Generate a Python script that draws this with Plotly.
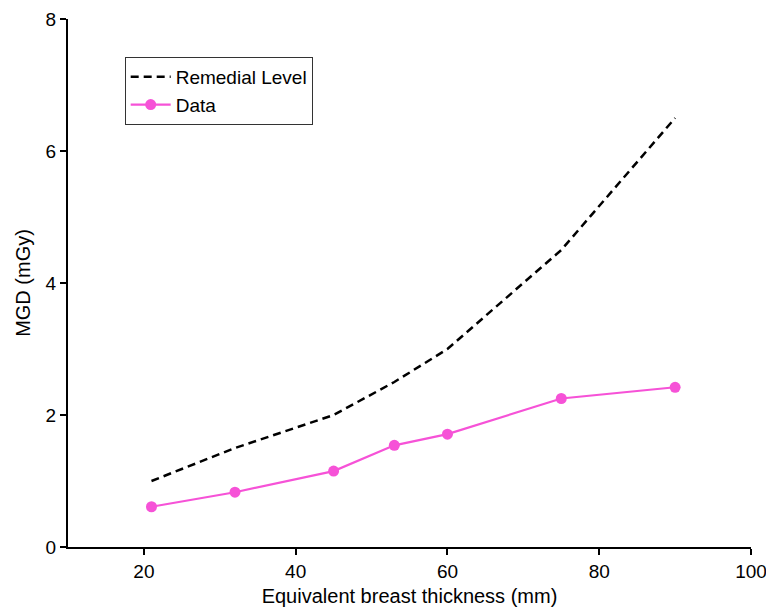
import plotly.graph_objects as go

thickness = [21, 32, 45, 53, 60, 75, 90]
remedial = [1.0, 1.5, 2.0, 2.5, 3.0, 4.5, 6.5]
data_mgd = [0.61, 0.83, 1.15, 1.54, 1.71, 2.25, 2.42]

fig = go.Figure()
fig.add_trace(go.Scatter(x=thickness, y=remedial, mode="lines", name="Remedial Level",
                         line=dict(color="black", width=2.5, dash="8px,5px")))
fig.add_trace(go.Scatter(x=thickness, y=data_mgd, mode="lines+markers", name="Data",
                         line=dict(color="#F652D7", width=2.2),
                         marker=dict(color="#F652D7", size=11)))

fam = "Liberation Sans, Arial, sans-serif"
tick_font = dict(family=fam, size=19, color="black")
title_font = dict(family=fam, size=20, color="black")
fig.update_layout(
    width=766, height=607,
    margin=dict(l=68, r=15, t=19, b=60),
    plot_bgcolor="white", paper_bgcolor="white",
    font=tick_font,
    showlegend=True,
    legend=dict(x=0.083, y=0.928, xanchor="left", yanchor="top",
                bordercolor="#333333", borderwidth=1, bgcolor="white",
                font=dict(family=fam, size=19, color="black"),
                tracegroupgap=0, itemwidth=40),
    xaxis=dict(range=[10, 100], tickvals=[20, 40, 60, 80, 100], showgrid=False, zeroline=False,
               showline=True, linecolor="black", linewidth=2, ticks="outside", ticklen=6,
               tickwidth=2, tickcolor="black", automargin=False, tickfont=tick_font,
               ticklabeloverflow="allow",
               title=dict(text="Equivalent breast thickness (mm)", standoff=10, font=title_font)),
    yaxis=dict(range=[0, 8], tickvals=[0, 2, 4, 6, 8], showgrid=False, zeroline=False,
               showline=True, linecolor="black", linewidth=2, ticks="outside", ticklen=6,
               tickwidth=2, tickcolor="black", automargin=False, tickfont=tick_font,
               ticklabeloverflow="allow",
               title=dict(text="MGD (mGy)", standoff=10, font=title_font)),
)
fig.write_html("out.html")
